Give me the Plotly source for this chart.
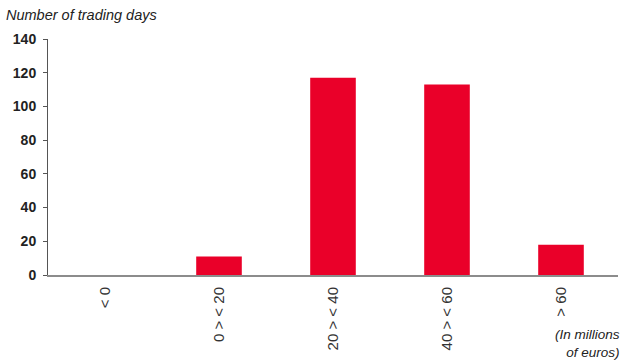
import plotly.graph_objects as go

categories = ["< 0", "0 > < 20", "20 > < 40", "40 > < 60", "> 60"]
days = [0, 11, 117, 113, 18]
y_ticks = [0, 20, 40, 60, 80, 100, 120, 140]

FONT = "Liberation Sans Narrow, Arial Narrow, Liberation Sans, Arial, sans-serif"

fig = go.Figure(go.Bar(
    x=categories, y=days, marker_color="#EA0029", width=0.4,
    marker_line_width=0,
))

fig.update_layout(
    width=628, height=361,
    margin=dict(l=48, r=10, t=39, b=86),
    paper_bgcolor="white", plot_bgcolor="white",
    showlegend=False,
    font=dict(family=FONT, color="#222"),
    xaxis=dict(
        range=[-0.5, 4.5], showline=True, linecolor="#8c8c8c", linewidth=2,
        ticks="", tickangle=-90, showgrid=False, zeroline=False,
        ticklabelstandoff=4,
        tickfont=dict(size=15, color="#333", family=FONT),
    ),
    yaxis=dict(
        range=[0, 140], tickvals=y_ticks, showline=True, linecolor="#555",
        linewidth=1, ticks="outside", ticklen=4, tickcolor="#555",
        showgrid=False, zeroline=False, ticklabelstandoff=4,
        tickfont=dict(size=14, color="#222", family=FONT, weight="bold"),
    ),
    annotations=[
        dict(text="<i>Number of trading days</i>", xref="paper", yref="paper",
             x=-48/570+4/570, y=1 + 24/236, xanchor="left", yanchor="middle",
             showarrow=False, font=dict(size=14.5, color="#222", family=FONT)),
        dict(text="<i>(In millions<br>of euros)</i>", xref="paper", yref="paper",
             x=1 + 4/570, y=-50/236, xanchor="right", yanchor="top", align="right",
             showarrow=False, font=dict(size=13.5, color="#222", family=FONT)),
    ],
)

fig.write_html("out.html")
